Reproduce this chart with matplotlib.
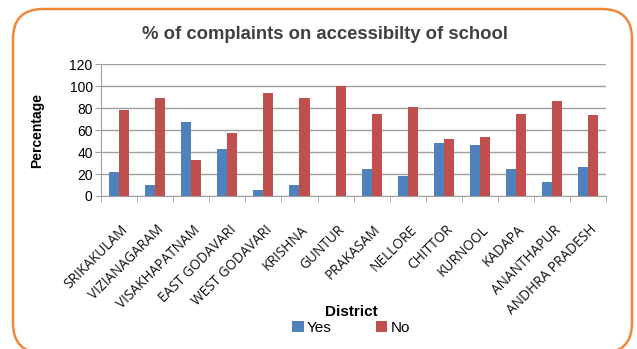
import matplotlib.pyplot as plt
from matplotlib.patches import FancyBboxPatch
from matplotlib.transforms import IdentityTransform, offset_copy
import numpy as np

districts = ["SRIKAKULAM", "VIZIANAGARAM", "VISAKHAPATNAM", "EAST GODAVARI",
             "WEST GODAVARI", "KRISHNA", "GUNTUR", "PRAKASAM", "NELLORE",
             "CHITTOR", "KURNOOL", "KADAPA", "ANANTHAPUR", "ANDHRA PRADESH"]
yes = [22, 10, 67, 43, 5.5, 10, 0, 25, 18, 48, 46, 25, 13, 26]
no = [78, 89, 33, 57, 94, 89.5, 100, 75, 81, 52, 53.5, 75, 86, 74]

fig = plt.figure(figsize=(6.37, 3.49), dpi=100)
ax = fig.add_axes([0.1586, 0.4384, 0.793, 0.378])

# orange rounded frame (pixel units), bottom edge runs off the image
frame = FancyBboxPatch((13, -4), 619, 344,
                       boxstyle="round,pad=0,rounding_size=30",
                       transform=IdentityTransform(), fill=False,
                       edgecolor="#F0883A", linewidth=1.8, clip_on=False)
fig.patches.append(frame)

x = np.arange(len(districts))
w = 0.28
ax.bar(x - w / 2, yes, w, color="#4F81BD", label="Yes", zorder=3)
ax.bar(x + w / 2, no, w, color="#C0504D", label="No", zorder=3)

ax.set_xlim(-0.5, len(districts) - 0.5)
ax.set_ylim(0, 120)
ax.set_yticks(range(0, 121, 20))
ax.yaxis.grid(True, color="#A0A0A0", linewidth=1.0, zorder=0)
ax.set_axisbelow(True)

for side in ["top", "right"]:
    ax.spines[side].set_visible(False)
ax.spines["left"].set_color("#A0A0A0")
ax.spines["bottom"].set_color("#A0A0A0")

# category labels, ticks between categories like Excel
ax.set_xticks(x)
ax.set_xticks(np.arange(-0.5, len(districts), 1), minor=True)
ax.tick_params(axis="x", which="minor", length=4, color="#A0A0A0")
ax.tick_params(axis="x", which="major", length=0, labelbottom=False)
for xi, name in zip(x, districts):
    tr = offset_copy(ax.get_xaxis_transform(), fig=fig, x=1, y=-19, units="points")
    ax.text(xi, 0, name, transform=tr, rotation=45, ha="right", va="top",
            rotation_mode="anchor", fontsize=9.8, family="Open Sans", color="#111111")

ax.tick_params(axis="y", length=4, color="#A0A0A0", labelsize=10, pad=2)
for t in ax.get_yticklabels():
    t.set_family("Liberation Sans")

ax.set_ylabel("Percentage", fontsize=10, fontweight="bold", family="Liberation Sans")
ax.yaxis.set_label_coords(-0.113, 0.5)

fig.text(0.51, 0.90, "% of complaints on accessibilty of school", ha="center", va="center",
         fontsize=13.3, fontweight="bold", family="Liberation Sans", color="#404040")
fig.text(0.551, 0.106, "District", ha="center", va="center",
         fontsize=11, fontweight="bold", family="Liberation Sans")

leg = fig.legend(loc="center", bbox_to_anchor=(0.551, 0.060), ncol=2, frameon=False,
                 prop={"family": "Liberation Sans", "size": 11},
                 handlelength=0.75, handleheight=0.75, handletextpad=0.2, columnspacing=2.9,
                 borderpad=0, borderaxespad=0)

fig.savefig("out.png", dpi=100)
